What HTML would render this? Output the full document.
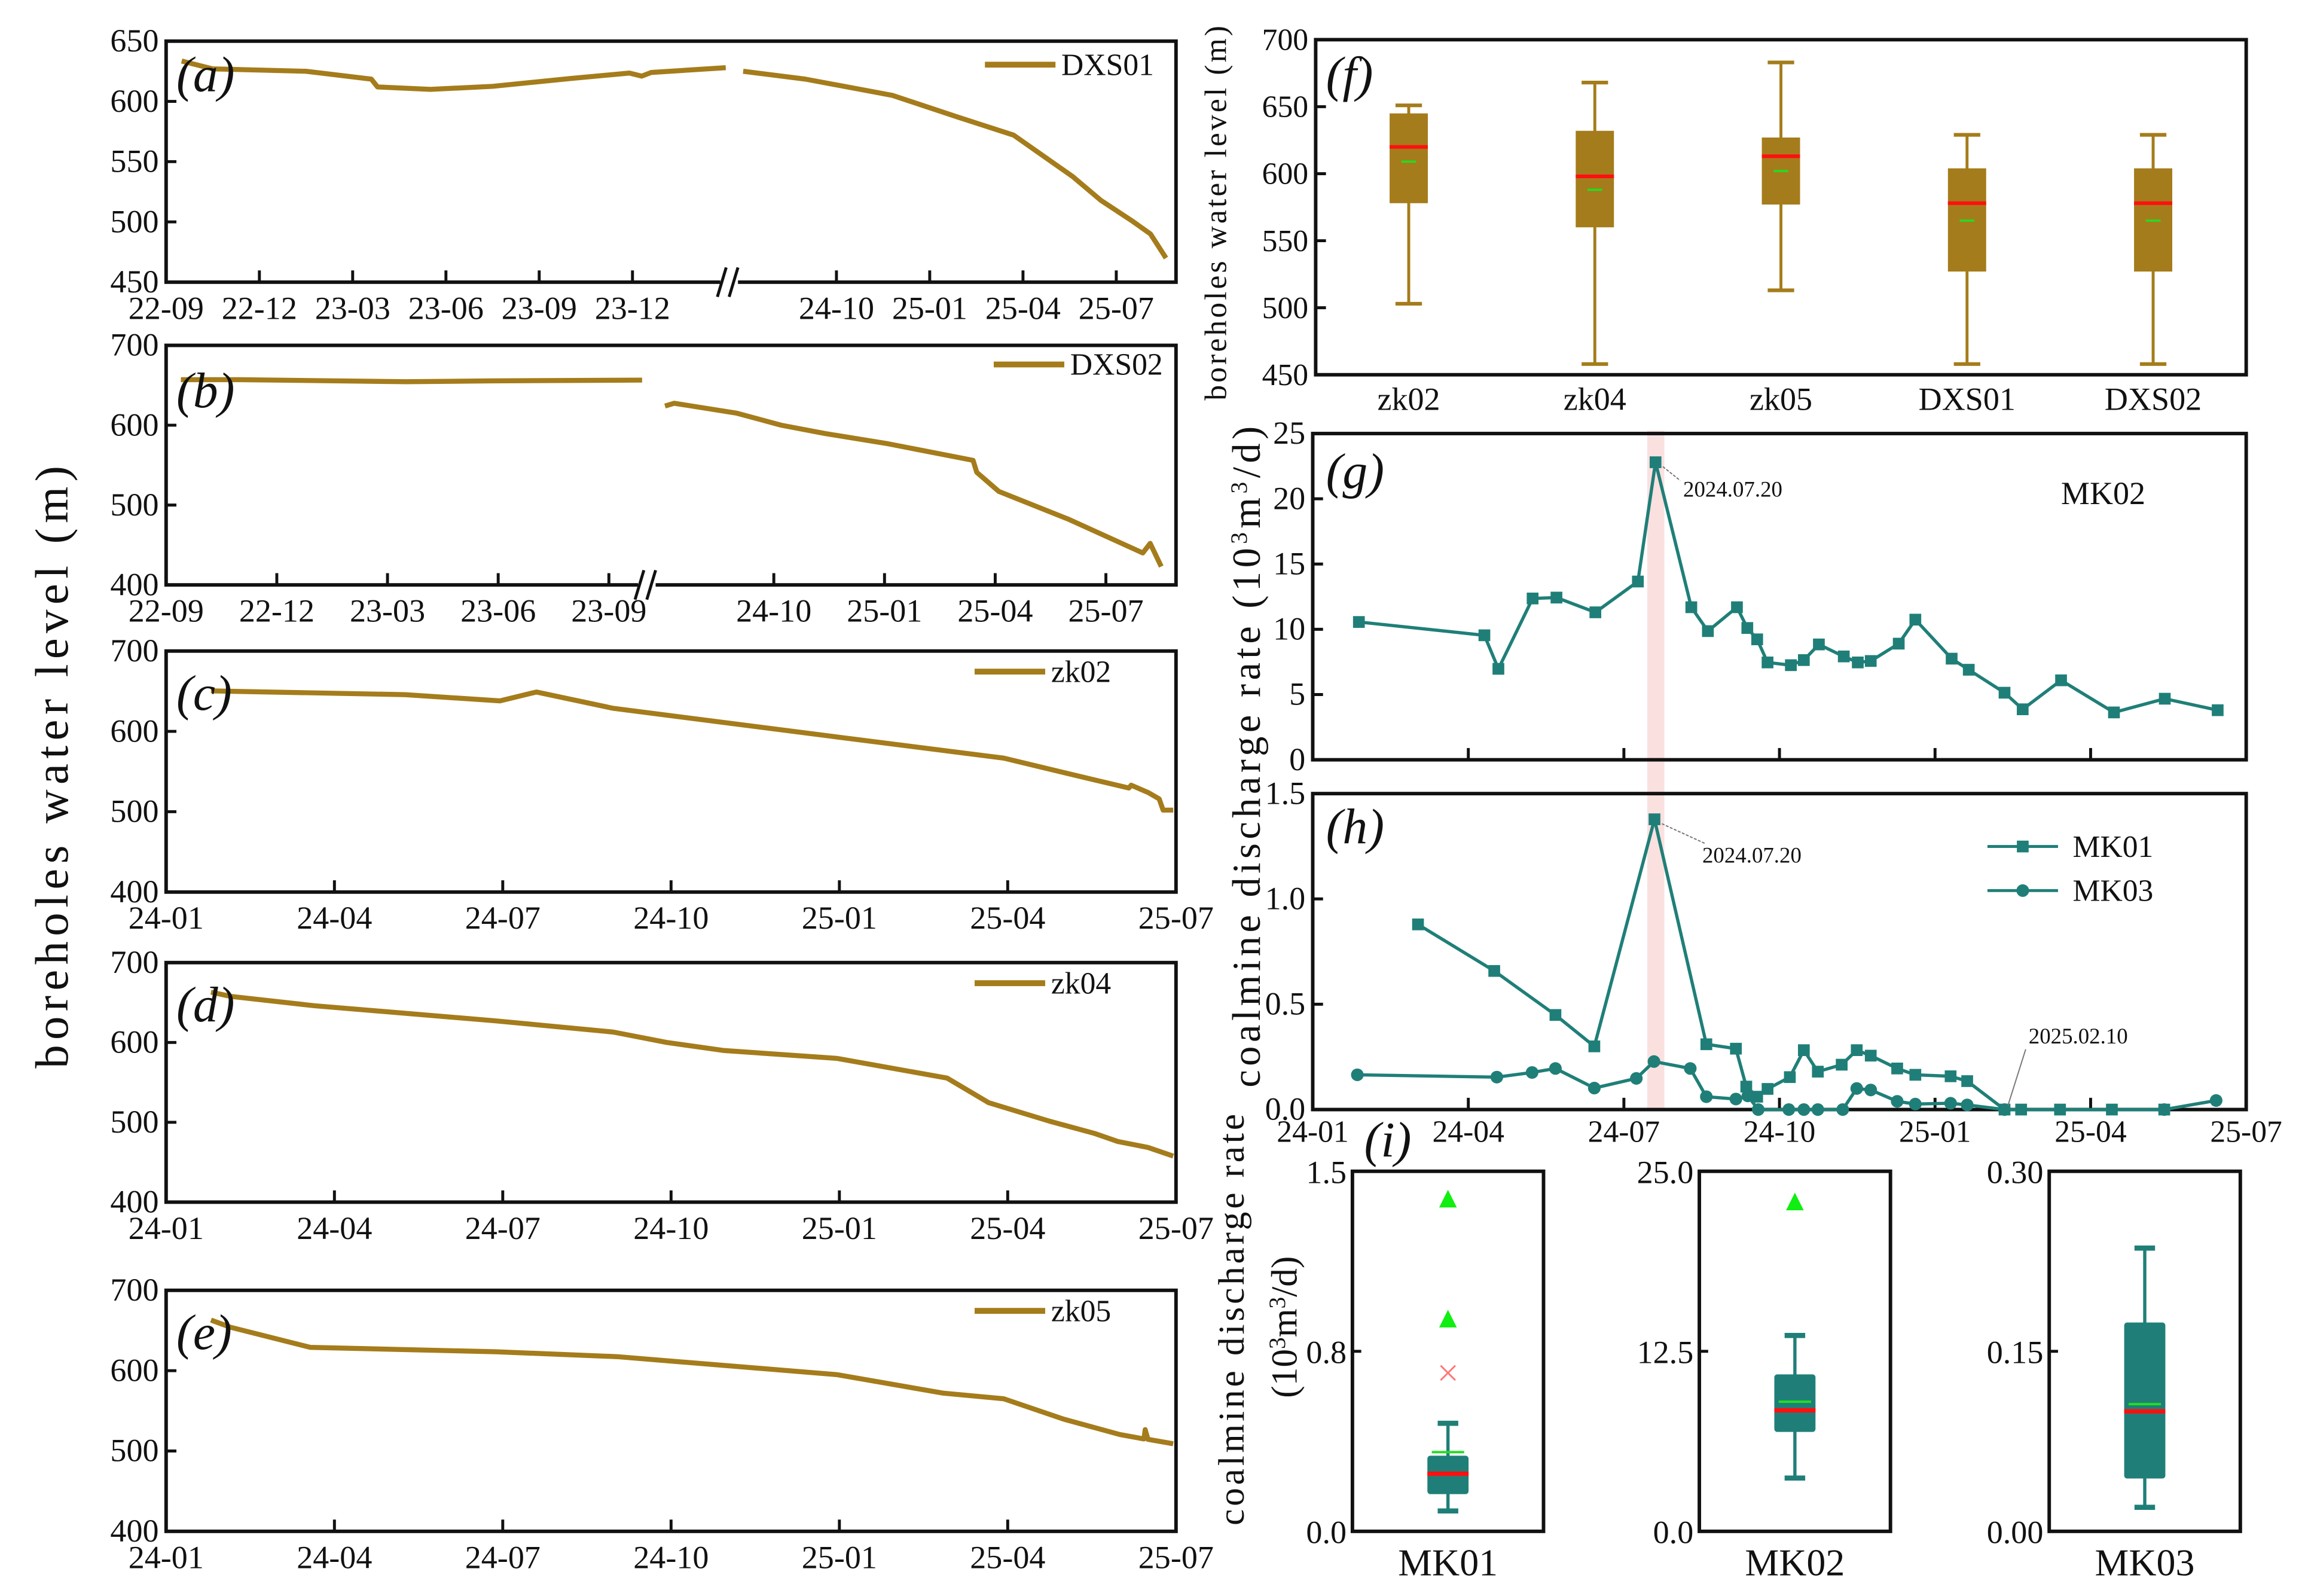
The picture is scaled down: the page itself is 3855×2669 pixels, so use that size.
<!DOCTYPE html>
<html><head><meta charset="utf-8"><style>
html,body{margin:0;padding:0;background:#fff;}
svg{display:block;}
text{font-family:"Liberation Serif","DejaVu Serif",serif;fill:#111;}
</style></head><body>
<svg id="fig" xmlns="http://www.w3.org/2000/svg" width="3855" height="2669" viewBox="0 0 1568 1086" preserveAspectRatio="none">
<rect x="0" y="0" width="1568" height="1086" fill="#fff"/>
<g id="root"></g>
</svg>
<script>
// ---------- data ----------
const dxs01Left = [[0.5,633.5],[1.5,627],[4.5,625],[6.6,618.5],[6.8,612],[8.5,610],[10.5,612.5],[13,619],[14.9,623.5],[15.3,621],[15.6,624],[18,628]];
const dxs01Right = [[22,625],[24,618.5],[26.8,605],[28.9,587],[30.7,572],[32.6,537.6],[33.5,518],[34.5,501],[35.1,490],[35.6,470]];
const dxs02Left = [[0.4,657],[2,657],[6.5,654.5],[8.8,655.5],[12.9,656.5]];
const dxs02Right = [[22.05,624],[22.3,627.5],[24,615],[25.2,600],[26.4,589.5],[28.1,576.7],[30.4,556],[30.5,541],[31.1,517],[33,482],[35,440],[35.2,452],[35.5,423]];
const zk02Series = [[0.8,650.4],[4.26,645.7],[5.95,638],[6.6,649],[7.97,628.7],[11.96,593],[14.93,566.7],[16.55,539.5],[17.16,529.5],[17.2,533],[17.5,524],[17.7,516],[17.77,502],[17.95,502]];
const zk04Series = [[0.8,663],[1.15,657.7],[2.64,646],[5.88,627],[7.97,613],[8.92,600],[9.93,590],[11.96,580],[13.92,555.4],[14.66,524.6],[15.74,501.5],[16.55,486],[16.96,476],[17.5,468.5],[17.95,457.7]];
const zk05Series = [[0.8,663],[1.15,654],[2.57,629],[5.88,623.5],[8.04,617.4],[11.96,595],[13.85,572],[14.93,565],[16.0,539.6],[17.0,520.5],[17.43,515],[17.45,526.6],[17.5,514.5],[17.95,509]];
const boxCats = ["zk02","zk04","zk05","DXS01","DXS02"];
const boxMin = [503,458,513,458,458];
const boxQ1 = [578,560,577,527,527];
const boxMed = [620,598,613,578,578];
const boxMean = [609,588,602,565,565];
const boxQ3 = [645,632,627,604,604];
const boxMax = [651,668,683,629,629];
const mk02Series = [[0.89,10.56],[3.31,9.54],[3.58,6.97],[4.24,12.36],[4.70,12.43],[5.45,11.3],[6.27,13.66],[6.61,22.8],[7.30,11.69],[7.62,9.86],[8.18,11.69],[8.38,10.1],[8.57,9.23],[8.77,7.46],[9.22,7.25],[9.47,7.64],[9.76,8.84],[10.24,7.92],[10.51,7.46],[10.76,7.57],[11.30,8.9],[11.62,10.74],[12.32,7.75],[12.65,6.9],[13.34,5.14],[13.69,3.87],[14.43,6.09],[15.45,3.63],[16.43,4.68],[17.45,3.8]];
const mk01Series = [[2.03,0.879],[3.50,0.658],[4.68,0.449],[5.43,0.30],[6.59,1.378],[7.59,0.31],[8.16,0.289],[8.36,0.109],[8.57,0.061],[8.77,0.098],[9.20,0.154],[9.47,0.282],[9.74,0.18],[10.2,0.213],[10.49,0.282],[10.76,0.256],[11.27,0.195],[11.62,0.165],[12.30,0.158],[12.62,0.135],[13.34,0],[13.66,0],[14.41,0],[15.41,0],[16.42,0]];
const mk03Series = [[0.86,0.165],[3.55,0.154],[4.23,0.176],[4.68,0.195],[5.43,0.102],[6.24,0.148],[6.58,0.228],[7.28,0.195],[7.59,0.061],[8.16,0.05],[8.39,0.065],[8.59,0],[9.18,0],[9.47,0],[9.74,0],[10.22,0],[10.49,0.1],[10.76,0.093],[11.27,0.039],[11.62,0.026],[12.30,0.03],[12.62,0.022],[13.34,0],[16.42,0],[17.42,0.043]];
const iNames = ["MK01","MK02","MK03"];
const iMax = [1.5,25,0.3];
const iTicks = [["0.0","0.8","1.5"],["0.0","12.5","25.0"],["0.00","0.15","0.30"]];
const iLow = [0.085,3.7,0.02];
const iQ1 = [0.155,6.9,0.044];
const iMed = [0.24,8.4,0.1];
const iMean = [0.33,9.0,0.106];
const iQ3 = [0.315,10.9,0.174];
const iHigh = [0.45,13.6,0.236];
const iOutTri = [[1.38,0.88],[22.8],[]];
const iOutX = [[0.66],[],[]];
const leftTicksA = ["22-09","22-12","23-03","23-06","23-09","23-12"];
const rightTicksA = ["24-10","25-01","25-04","25-07"];
const leftTicksB = ["22-09","22-12","23-03","23-06","23-09"];
const monthTicks = ["24-01","24-04","24-07","24-10","25-01","25-04","25-07"];

// ---------- helpers ----------
const NS="http://www.w3.org/2000/svg";
const root=document.getElementById('root');
function mk(tag,attrs,parent,txt){const e=document.createElementNS(NS,tag);for(const k in attrs)e.setAttribute(k,attrs[k]);if(txt!==undefined)e.textContent=txt;(parent||root).appendChild(e);return e;}
const GOLD="#A57C1B", TEAL="#1F7F78";
function frame(g,x0,y0,x1,y1){mk('rect',{x:x0,y:y0,width:x1-x0,height:y1-y0,fill:'none',stroke:'#111','stroke-width':2.4},g);}
function yAxis(g,x0,y0,y1,vmin,vmax,ticks,fs){const sc=v=>y1-(v-vmin)/(vmax-vmin)*(y1-y0);ticks.forEach(t=>{const y=sc(t.v);mk('line',{x1:x0,x2:x0+7,y1:y,y2:y,stroke:'#111','stroke-width':2},g);const tx=mk('text',{x:x0-5,y:y+7,'text-anchor':'end','font-size':fs||22},g,t.l);});return sc;}
function line(g,pts,sx,sy,color,w,name){const d=pts.map((p,i)=>(i?'L':'M')+sx(p[0]).toFixed(2)+' '+sy(p[1]).toFixed(2)).join(' ');const p=mk('path',{d:d,fill:'none',stroke:color,'stroke-width':w,'stroke-linejoin':'round'},g);return p;}
function panelLabel(g,x,y,t){const e=mk('text',{x:x,y:y,'font-size':34,'font-style':'italic'},g,t);}
function legendLine(g,x,y,name){mk('line',{x1:x,x2:x+48,y1:y,y2:y,stroke:GOLD,'stroke-width':4},g);const t=mk('text',{x:x+52,y:y+7,'font-size':21},g,name);}
function xTick(g,x,yb,lab,fs,dy){mk('line',{x1:x,x2:x,y1:yb,y2:yb-8,stroke:'#111','stroke-width':2},g);if(lab!==null){const t=mk('text',{x:x,y:yb+(dy||25),'text-anchor':'middle','font-size':fs||22},g,lab);}}
function breakMark(g,x,yb){mk('rect',{x:x-6,y:yb-3,width:12,height:6,fill:'#fff'},g);mk('line',{x1:x-8,y1:yb+10,x2:x-2,y2:yb-10,stroke:'#111','stroke-width':2},g);mk('line',{x1:x,y1:yb+10,x2:x+6,y2:yb-10,stroke:'#111','stroke-width':2},g);}

// ---------- (a) ----------
(function(){const g=mk('g',{});
const x0=113,x1=800,y0=28,y1=192;frame(g,x0,y0,x1,y1);
const sy=yAxis(g,x0,y0,y1,450,650,[450,500,550,600,650].map(v=>({v:v,l:String(v)})));
const sxL=m=>x0+m*21.15, sxR=m=>569+(m-25)*21.15;
leftTicksA.forEach((l,i)=>xTick(g,sxL(i*3),y1,l));
rightTicksA.forEach((l,i)=>xTick(g,sxR(25+i*3),y1,l));
line(g,dxs01Left,sxL,sy,GOLD,3.4,'dxs01-line-left');line(g,dxs01Right,sxR,sy,GOLD,3.4,'dxs01-line-right');
breakMark(g,496,y1);panelLabel(g,120,62,'(a)');legendLine(g,670,44,'DXS01');})();

// ---------- (b) ----------
(function(){const g=mk('g',{});
const x0=113,x1=800,y0=235,y1=398;frame(g,x0,y0,x1,y1);
const sy=yAxis(g,x0,y0,y1,400,700,[400,500,600,700].map(v=>({v:v,l:String(v)})));
const sxL=m=>x0+m*25.1, sxR=m=>526.4+(m-25)*25.1;
leftTicksB.forEach((l,i)=>xTick(g,sxL(i*3),y1,l));
rightTicksA.forEach((l,i)=>xTick(g,sxR(25+i*3),y1,l));
line(g,dxs02Left,sxL,sy,GOLD,3.4,'dxs02-line-left');line(g,dxs02Right,sxR,sy,GOLD,3.4,'dxs02-line-right');
breakMark(g,440,y1);panelLabel(g,120,277,'(b)');legendLine(g,676,248,'DXS02');})();

// ---------- (c)(d)(e) ----------
[[zk02Series,443,607,'(c)','zk02','c'],[zk04Series,655,818,'(d)','zk04','d'],[zk05Series,878,1042,'(e)','zk05','e']].forEach(p=>{
const g=mk('g',{});
const x0=113,x1=800,y0=p[1],y1=p[2];frame(g,x0,y0,x1,y1);
const sy=yAxis(g,x0,y0,y1,400,700,[400,500,600,700].map(v=>({v:v,l:String(v)})));
const sx=m=>x0+m*(x1-x0)/18;
monthTicks.forEach((l,i)=>xTick(g,sx(i*3),y1,l));
line(g,p[0],sx,sy,GOLD,3.4,p[4]+'-line');panelLabel(g,120,y0+40,p[3]);legendLine(g,663,y0+14,p[4]);});

// left y-axis title
(function(){const t=mk('text',{x:0,y:0,'font-size':32,'text-anchor':'middle',textLength:410,lengthAdjust:'spacing',transform:'translate(46,522) rotate(-90)'},root,'boreholes water level (m)');})();

// ---------- (f) ----------
(function(){const g=mk('g',{});
const x0=895,x1=1528,y0=27,y1=255;frame(g,x0,y0,x1,y1);
const sy=yAxis(g,x0,y0,y1,450,700,[450,500,550,600,650,700].map(v=>({v:v,l:String(v)})),21);
const bx=i=>x0+(x1-x0)*(0.1+0.2*i);
boxCats.forEach((c,i)=>{const x=bx(i),w=26;
const wk=mk('line',{x1:x,x2:x,y1:sy(boxMin[i]),y2:sy(boxMax[i]),stroke:GOLD,'stroke-width':2},g);
[boxMin[i],boxMax[i]].forEach(v=>mk('line',{x1:x-9,x2:x+9,y1:sy(v),y2:sy(v),stroke:GOLD,'stroke-width':2.5},g));
const b=mk('rect',{x:x-w/2,y:sy(boxQ3[i]),width:w,height:sy(boxQ1[i])-sy(boxQ3[i]),fill:GOLD},g);
mk('line',{x1:x-w/2,x2:x+w/2,y1:sy(boxMed[i]),y2:sy(boxMed[i]),stroke:'#ff1010','stroke-width':2.5},g);
mk('line',{x1:x-5,x2:x+5,y1:sy(boxMean[i]),y2:sy(boxMean[i]),stroke:'#22dd22','stroke-width':1.5},g);
const t=mk('text',{x:x,y:y1+24,'text-anchor':'middle','font-size':22},g,c);});
panelLabel(g,902,62,'(f)');
const yt=mk('text',{x:0,y:0,'font-size':21,'text-anchor':'middle',textLength:255,lengthAdjust:'spacing',transform:'translate(834,145) rotate(-90)'},g,'boreholes water level (m)');})();

// ---------- (g)(h) ----------
const gx0=893,gx1=1528;
const sxT=m=>gx0+m*(gx1-gx0)/18;
mk('rect',{x:sxT(6.45),y:293,width:sxT(6.78)-sxT(6.45),height:462,fill:'#f9d6d6',opacity:0.75,});
function squareMarkers(g,pts,sx,sy,name){pts.forEach(p=>{const r=mk('rect',{x:sx(p[0])-4,y:sy(p[1])-4,width:8,height:8,fill:TEAL},g);});}
function circleMarkers(g,pts,sx,sy,name){pts.forEach(p=>{const c=mk('circle',{cx:sx(p[0]),cy:sy(p[1]),r:4.3,fill:TEAL},g);});}
(function(){const g=mk('g',{});
const y0=295,y1=517;frame(g,gx0,y0,gx1,y1);
const sy=yAxis(g,gx0,y0,y1,0,25,[0,5,10,15,20,25].map(v=>({v:v,l:String(v)})));
monthTicks.forEach((l,i)=>{if(i>0&&i<6)xTick(g,sxT(i*3),y1,null);});
line(g,mk02Series,sxT,sy,TEAL,2.2,'mk02-line');squareMarkers(g,mk02Series,sxT,sy,'mk02-point');
mk('line',{x1:sxT(6.61)+5,y1:sy(22.8)+3,x2:1143,y2:327,stroke:'#777','stroke-width':0.8,'stroke-dasharray':'2,1'},g);
mk('text',{x:1145,y:338,'font-size':15},g,'2024.07.20');
const t=mk('text',{x:1402,y:343,'font-size':22},g,'MK02');
panelLabel(g,902,332,'(g)');})();
(function(){const g=mk('g',{});
const y0=540,y1=755;frame(g,gx0,y0,gx1,y1);
const sy=yAxis(g,gx0,y0,y1,0,1.5,[0,0.5,1.0,1.5].map(v=>({v:v,l:v.toFixed(1)})));
monthTicks.forEach((l,i)=>xTick(g,sxT(i*3),y1,l,21,22));
line(g,mk01Series,sxT,sy,TEAL,2.2,'mk01-line');squareMarkers(g,mk01Series,sxT,sy,'mk01-point');
line(g,mk03Series,sxT,sy,TEAL,2.2,'mk03-line');circleMarkers(g,mk03Series,sxT,sy,'mk03-point');
mk('line',{x1:sxT(6.59)+5,y1:sy(1.378)+3,x2:1160,y2:574,stroke:'#777','stroke-width':0.8,'stroke-dasharray':'2,1'},g);
mk('text',{x:1158,y:587,'font-size':15},g,'2024.07.20');
mk('line',{x1:1378,y1:714,x2:1366,y2:752,stroke:'#777','stroke-width':0.8},g);
mk('text',{x:1380,y:710,'font-size':15},g,'2025.02.10');
mk('line',{x1:1352,x2:1400,y1:576,y2:576,stroke:TEAL,'stroke-width':2},g);mk('rect',{x:1372,y:572,width:8,height:8,fill:TEAL},g);
const l1=mk('text',{x:1410,y:583,'font-size':21},g,'MK01');
mk('line',{x1:1352,x2:1400,y1:606,y2:606,stroke:TEAL,'stroke-width':2},g);mk('circle',{cx:1376,cy:606,r:4.3,fill:TEAL},g);
const l2=mk('text',{x:1410,y:613,'font-size':21},g,'MK03');
panelLabel(g,902,574,'(h)');})();
(function(){const t=mk('text',{x:0,y:0,'font-size':27,'text-anchor':'middle',textLength:450,lengthAdjust:'spacing',transform:'translate(857,515) rotate(-90)'},root);
t.innerHTML='coalmine discharge rate (10<tspan dy="-9" font-size="16">3</tspan><tspan dy="9">m</tspan><tspan dy="-9" font-size="16">3</tspan><tspan dy="9">/d)</tspan>';})();

// ---------- (i) ----------
const iX0=[920,1156,1394];
iNames.forEach((n,k)=>{const g=mk('g',{});
const x0=iX0[k],x1=x0+130,y0=797,y1=1042;frame(g,x0,y0,x1,y1);
const sy=v=>y1-v/iMax[k]*(y1-y0);
[0,0.5,1].forEach((f,j)=>{const y=y1-f*(y1-y0);mk('line',{x1:x0,x2:x0+6,y1:y,y2:y,stroke:'#111','stroke-width':2},g);const t=mk('text',{x:x0-4,y:y+8,'text-anchor':'end','font-size':22},g,iTicks[k][j]);});
const cx=x0+65,w=28;
mk('line',{x1:cx,x2:cx,y1:sy(iLow[k]),y2:sy(iHigh[k]),stroke:TEAL,'stroke-width':2.2},g);
[iLow[k],iHigh[k]].forEach(v=>mk('line',{x1:cx-7,x2:cx+7,y1:sy(v),y2:sy(v),stroke:TEAL,'stroke-width':3.5},g));
const b=mk('rect',{x:cx-w/2,y:sy(iQ3[k]),width:w,height:sy(iQ1[k])-sy(iQ3[k]),fill:TEAL,rx:2},g);
mk('line',{x1:cx-w/2,x2:cx+w/2,y1:sy(iMed[k]),y2:sy(iMed[k]),stroke:'#ff1010','stroke-width':3},g);
mk('line',{x1:cx-w/2+3,x2:cx+w/2-3,y1:sy(iMean[k]),y2:sy(iMean[k]),stroke:'#22dd22','stroke-width':1.6},g);
iOutTri[k].forEach(v=>{const y=sy(v);const p=mk('path',{d:`M${cx} ${y-7} L${cx-6} ${y+5} L${cx+6} ${y+5} Z`,fill:'#11ee11'},g);});
iOutX[k].forEach(v=>{const y=sy(v);mk('path',{d:`M${cx-5} ${y-5} L${cx+5} ${y+5} M${cx+5} ${y-5} L${cx-5} ${y+5}`,stroke:'#ff7777','stroke-width':1.2},g);});
const t=mk('text',{x:cx,y:1072,'text-anchor':'middle','font-size':26},g,n);});
panelLabel(root,928,787,'(i)');
(function(){const t=mk('text',{x:0,y:0,'font-size':25,'text-anchor':'middle',textLength:280,lengthAdjust:'spacing',transform:'translate(846,898) rotate(-90)'},root,'coalmine discharge rate');
const t2=mk('text',{x:0,y:0,'font-size':25,'text-anchor':'middle',transform:'translate(882,903) rotate(-90)'},root);
t2.innerHTML='(10<tspan dy="-8" font-size="16">3</tspan><tspan dy="8">m</tspan><tspan dy="-8" font-size="16">3</tspan><tspan dy="8">/d)</tspan>';})();
</script>
</body></html>
